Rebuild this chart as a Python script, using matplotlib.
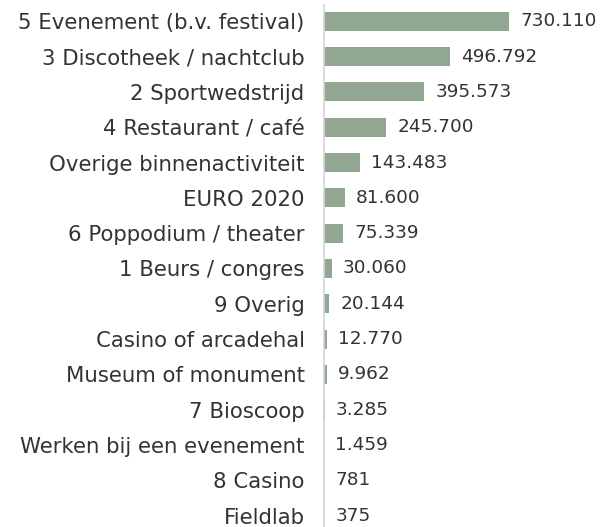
import matplotlib
matplotlib.use("Agg")
import matplotlib.pyplot as plt

categories = [
    "5 Evenement (b.v. festival)",
    "3 Discotheek / nachtclub",
    "2 Sportwedstrijd",
    "4 Restaurant / café",
    "Overige binnenactiviteit",
    "EURO 2020",
    "6 Poppodium / theater",
    "1 Beurs / congres",
    "9 Overig",
    "Casino of arcadehal",
    "Museum of monument",
    "7 Bioscoop",
    "Werken bij een evenement",
    "8 Casino",
    "Fieldlab",
]
values = [730110, 496792, 395573, 245700, 143483, 81600, 75339, 30060,
          20144, 12770, 9962, 3285, 1459, 781, 375]


def fmt(v):
    return f"{v:,}".replace(",", ".")


fig = plt.figure(figsize=(6.02, 5.27), dpi=100)
ax = fig.add_axes([324 / 602, 0, 1 - 324 / 602, 522 / 527])

y = range(len(categories))
ax.barh(y, values, height=0.54, color="#91a791")
ax.set_ylim(len(categories) - 1 + 0.32, -0.46)
ax.set_xlim(0, 730110 * 278 / 185)

ax.set_yticks(list(y))
ax.set_yticklabels(categories, fontsize=15.3, color="#333333")
ax.tick_params(axis="y", length=0, pad=14)
ax.set_xticks([])

for s in ["top", "right", "bottom"]:
    ax.spines[s].set_visible(False)
ax.spines["left"].set_color("#d4d4d4")
ax.spines["left"].set_linewidth(1.2)

for i, v in enumerate(values):
    ax.annotate(fmt(v), (v, i), xytext=(8, 0), textcoords="offset points",
                va="center", ha="left", fontsize=13.3, color="#333333")

fig.savefig("out.png", dpi=100)
